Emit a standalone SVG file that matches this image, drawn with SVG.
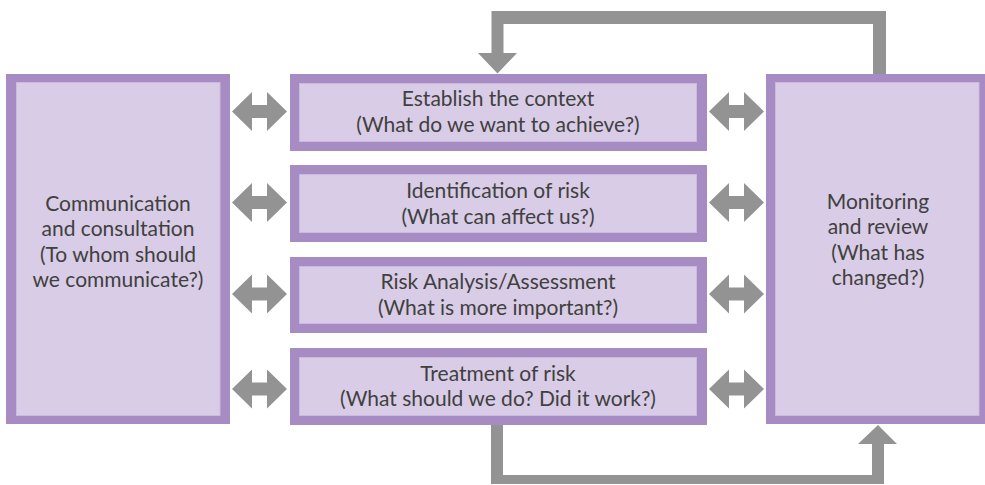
<svg xmlns="http://www.w3.org/2000/svg" xmlns:xlink="http://www.w3.org/1999/xlink" width="985" height="485" viewBox="0 0 985 485">
  <style>
    .frame { fill: #a78cc4; }
    .panel { fill: #d9cce6; stroke: #cbbadf; stroke-width: 1; }
    .flow { fill: #939393; }
    .label { font-family: Lato, "Open Sans", "Liberation Sans", sans-serif; font-size: 21px; fill: #404040; text-anchor: middle; }
  </style>
  <defs>
    <!-- horizontal two-headed block arrow, left tip at origin -->
    <path id="dbl" d="M0 0 L20 -19.5 L20 -6.5 L35 -6.5 L35 -19.5 L55 0 L35 19.5 L35 6.5 L20 6.5 L20 19.5 Z"/>
  </defs>

  <g id="connectors" class="flow">
    <!-- feedback loop from monitoring back to context -->
    <path d="M886 74 L886 11 L491.5 11 L491.5 53 L478 53 L497.5 73.5 L517 53 L503.5 53 L503.5 24 L873 24 L873 74 Z"/>
    <!-- treatment feeds monitoring -->
    <path d="M491 424 L491 484 L884 484 L884 444 L897 444 L878 425 L858 444 L872 444 L872 475 L503 475 L503 424 Z"/>
    <!-- links to communication -->
    <use xlink:href="#dbl" x="232" y="111.5"/>
    <use xlink:href="#dbl" x="232" y="202.5"/>
    <use xlink:href="#dbl" x="232" y="294"/>
    <use xlink:href="#dbl" x="232" y="389"/>
    <!-- links to monitoring -->
    <use xlink:href="#dbl" x="709" y="111.5"/>
    <use xlink:href="#dbl" x="709" y="202.5"/>
    <use xlink:href="#dbl" x="709" y="294"/>
    <use xlink:href="#dbl" x="709" y="389"/>
  </g>

  <g id="communication">
    <rect class="frame" x="6" y="74" width="224" height="350"/>
    <rect class="panel" x="16.5" y="82.5" width="203.5" height="333"/>
    <text class="label" x="118" y="211">Communication</text>
    <text class="label" x="118" y="236">and consultation</text>
    <text class="label" x="118" y="261.5">(To whom should</text>
    <text class="label" x="118" y="286.5">we communicate?)</text>
  </g>

  <g id="context">
    <rect class="frame" x="290" y="74" width="417" height="77"/>
    <rect class="panel" x="299.5" y="83.5" width="397" height="58"/>
    <text class="label" x="498" y="106">Establish the context</text>
    <text class="label" x="498" y="131.5">(What do we want to achieve?)</text>
  </g>

  <g id="identification">
    <rect class="frame" x="290" y="165" width="417" height="77"/>
    <rect class="panel" x="299.5" y="174.5" width="397" height="58"/>
    <text class="label" x="498" y="198">Identification of risk</text>
    <text class="label" x="498" y="223.5">(What can affect us?)</text>
  </g>

  <g id="analysis">
    <rect class="frame" x="290" y="257" width="417" height="76"/>
    <rect class="panel" x="299.5" y="266.5" width="397" height="57"/>
    <text class="label" x="498" y="289">Risk Analysis/Assessment</text>
    <text class="label" x="498" y="314.5">(What is more important?)</text>
  </g>

  <g id="treatment">
    <rect class="frame" x="290" y="348" width="417" height="77"/>
    <rect class="panel" x="299.5" y="357.5" width="397" height="58"/>
    <text class="label" x="498" y="380.5">Treatment of risk</text>
    <text class="label" x="498" y="406">(What should we do? Did it work?)</text>
  </g>

  <g id="monitoring">
    <rect class="frame" x="766" y="74" width="223" height="350"/>
    <rect class="panel" x="775.5" y="82.5" width="203.5" height="333"/>
    <text class="label" x="878" y="208.5">Monitoring</text>
    <text class="label" x="878" y="233.5">and review</text>
    <text class="label" x="878" y="259.5">(What has</text>
    <text class="label" x="878" y="284.5">changed?)</text>
  </g>
</svg>
